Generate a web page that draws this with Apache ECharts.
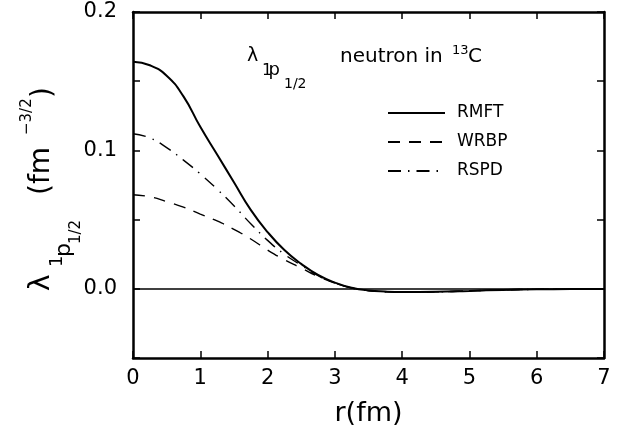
<!DOCTYPE html>
<html>
<head>
<meta charset="utf-8">
<script src="https://cdn.jsdelivr.net/npm/echarts@6/dist/echarts.min.js"></script>
<style>
  html, body { margin: 0; padding: 0; background: #fff; }
  #chart { width: 622px; height: 438px; }
</style>
</head>
<body>
<div id="chart"></div>
<script>
// radial coordinate r (fm)
const rValues = [0, 0.25, 0.5, 0.75, 1, 1.25, 1.5, 1.75, 2, 2.25, 2.5, 2.75, 3, 3.25, 3.5, 3.75, 4, 4.5, 5, 5.5, 6, 6.5, 7];

// lambda_{1p1/2}(r) for the three models (fm^-3/2)
const rmft = [0.164, 0.1615, 0.154, 0.139, 0.117, 0.097, 0.077, 0.057, 0.041, 0.028, 0.018, 0.010, 0.0045, 0.0008, -0.0012, -0.002, -0.0023, -0.0022, -0.0015, -0.0008, -0.0004, -0.0002, -0.0001];
const wrbp = [0.068, 0.0665, 0.063, 0.059, 0.054, 0.049, 0.043, 0.036, 0.028, 0.021, 0.015, 0.009, 0.0042, 0.0006, -0.0013, -0.0021, -0.0024, -0.0022, -0.0015, -0.0008, -0.0004, -0.0002, -0.0001];
const rspd = [0.112, 0.109, 0.102, 0.093, 0.083, 0.072, 0.060, 0.047, 0.035, 0.025, 0.017, 0.0095, 0.0042, 0.0006, -0.0013, -0.0021, -0.0024, -0.0022, -0.0015, -0.0008, -0.0004, -0.0002, -0.0001];

const seriesNames = ['RMFT', 'WRBP', 'RSPD'];
const xTicks = { min: 0, max: 7, step: 1 };
const yTicks = { min: -0.05, max: 0.2, step: 0.05, labelled: [0, 0.1, 0.2] };

const FONT = 'DejaVu Sans';
const pairs = (ys) => rValues.map((r, i) => [r, ys[i]]);

const chart = echarts.init(document.getElementById('chart'), null, { renderer: 'canvas' });

const frameLine = { show: true, onZero: false, lineStyle: { color: '#000', width: 2.5 } };
const tickIn = { show: true, inside: true, length: 7, lineStyle: { color: '#000', width: 1.5 } };

// pieces of the rotated y-axis title: [text, start y on screen, centre x on screen, font size]
const yTitleParts = [
  ['λ', 291, 42, 28],
  ['1', 267, 57, 18],
  ['p', 257, 64, 22],
  ['1/2', 244, 76, 15],
  ['(fm', 195, 42, 28],
  ['−3/2', 135, 27, 15],
  [')', 98, 44, 28]
];

// pieces of the in-plot label: [text, left x, centre y, font size]
const noteParts = [
  ['λ', 247, 56, 19],
  ['1', 262, 70.5, 16],
  ['p', 268.5, 70, 18],
  ['1/2', 284, 84, 14],
  ['neutron in', 340, 56.6, 20],
  ['13', 452, 51, 13],
  ['C', 468, 56.6, 20]
];

const option = {
  animation: false,
  backgroundColor: '#fff',
  textStyle: { fontFamily: FONT, color: '#000' },
  grid: { left: 133, right: 18, top: 12, bottom: 80, containLabel: false },
  legend: {
    orient: 'vertical',
    left: 387,
    top: 104.5,
    padding: 0,
    itemWidth: 57,
    itemHeight: 14,
    itemGap: 12,
    data: seriesNames,
    selectedMode: false,
    itemStyle: { opacity: 0 },
    formatter: (name) => '{n|' + name + '}',
    textStyle: {
      fontFamily: FONT, fontSize: 17, color: '#000',
      rich: { n: { fontFamily: FONT, fontSize: 17, color: '#000', padding: [0, 0, 0, 7] } }
    }
  },
  xAxis: [
    {
      type: 'value', position: 'bottom',
      min: xTicks.min, max: xTicks.max, interval: xTicks.step,
      axisLine: frameLine, axisTick: tickIn, splitLine: { show: false },
      axisLabel: { fontFamily: FONT, fontSize: 21, color: '#000', margin: 10 },
      name: 'r(fm)', nameLocation: 'middle', nameGap: 42,
      nameTextStyle: { fontFamily: FONT, fontSize: 27, color: '#000' }
    },
    {
      type: 'value', position: 'top',
      min: xTicks.min, max: xTicks.max, interval: xTicks.step,
      axisLine: frameLine, axisTick: tickIn, splitLine: { show: false },
      axisLabel: { show: false }
    }
  ],
  yAxis: [
    {
      type: 'value', position: 'left',
      min: yTicks.min, max: yTicks.max, interval: yTicks.step,
      axisLine: frameLine, axisTick: tickIn, splitLine: { show: false },
      axisLabel: {
        fontFamily: FONT, fontSize: 21, color: '#000', margin: 16,
        formatter: (v) => yTicks.labelled.some((t) => Math.abs(t - v) < 1e-9) ? v.toFixed(1) : ''
      }
    },
    {
      type: 'value', position: 'right',
      min: yTicks.min, max: yTicks.max, interval: yTicks.step,
      axisLine: frameLine, axisTick: tickIn, splitLine: { show: false },
      axisLabel: { show: false }
    }
  ],
  series: [
    {
      name: seriesNames[0], type: 'line', data: pairs(rmft),
      smooth: true, symbol: 'none', clip: true,
      lineStyle: { color: '#000', width: 2, type: 'solid' },
      itemStyle: { color: '#000' },
      markLine: {
        silent: true, symbol: 'none', label: { show: false },
        lineStyle: { color: '#000', width: 1.6, type: 'solid' },
        data: [{ yAxis: 0 }]
      }
    },
    {
      name: seriesNames[1], type: 'line', data: pairs(wrbp),
      smooth: true, symbol: 'none', clip: true,
      lineStyle: { color: '#000', width: 1.4, type: [12, 9] },
      itemStyle: { color: '#000' }
    },
    {
      name: seriesNames[2], type: 'line', data: pairs(rspd),
      smooth: true, symbol: 'none', clip: true,
      lineStyle: { color: '#000', width: 1.4, type: [13, 7, 1.5, 7] },
      itemStyle: { color: '#000' }
    }
  ],
  graphic: [
    {
      type: 'group', x: 0, y: 0, rotation: Math.PI / 2, silent: true,
      children: yTitleParts.map(([t, sy, sx, fs]) => ({
        type: 'text', x: -sy, y: sx,
        style: { text: t, fontFamily: FONT, fontSize: fs, fill: '#000', textAlign: 'left', textVerticalAlign: 'middle' }
      }))
    },
    ...noteParts.map(([t, x, y, fs]) => ({
      type: 'text', x: x, y: y, silent: true,
      style: { text: t, fontFamily: FONT, fontSize: fs, fill: '#000', textAlign: 'left', textVerticalAlign: 'middle' }
    }))
  ]
};

chart.setOption(option);
</script>
</body>
</html>
